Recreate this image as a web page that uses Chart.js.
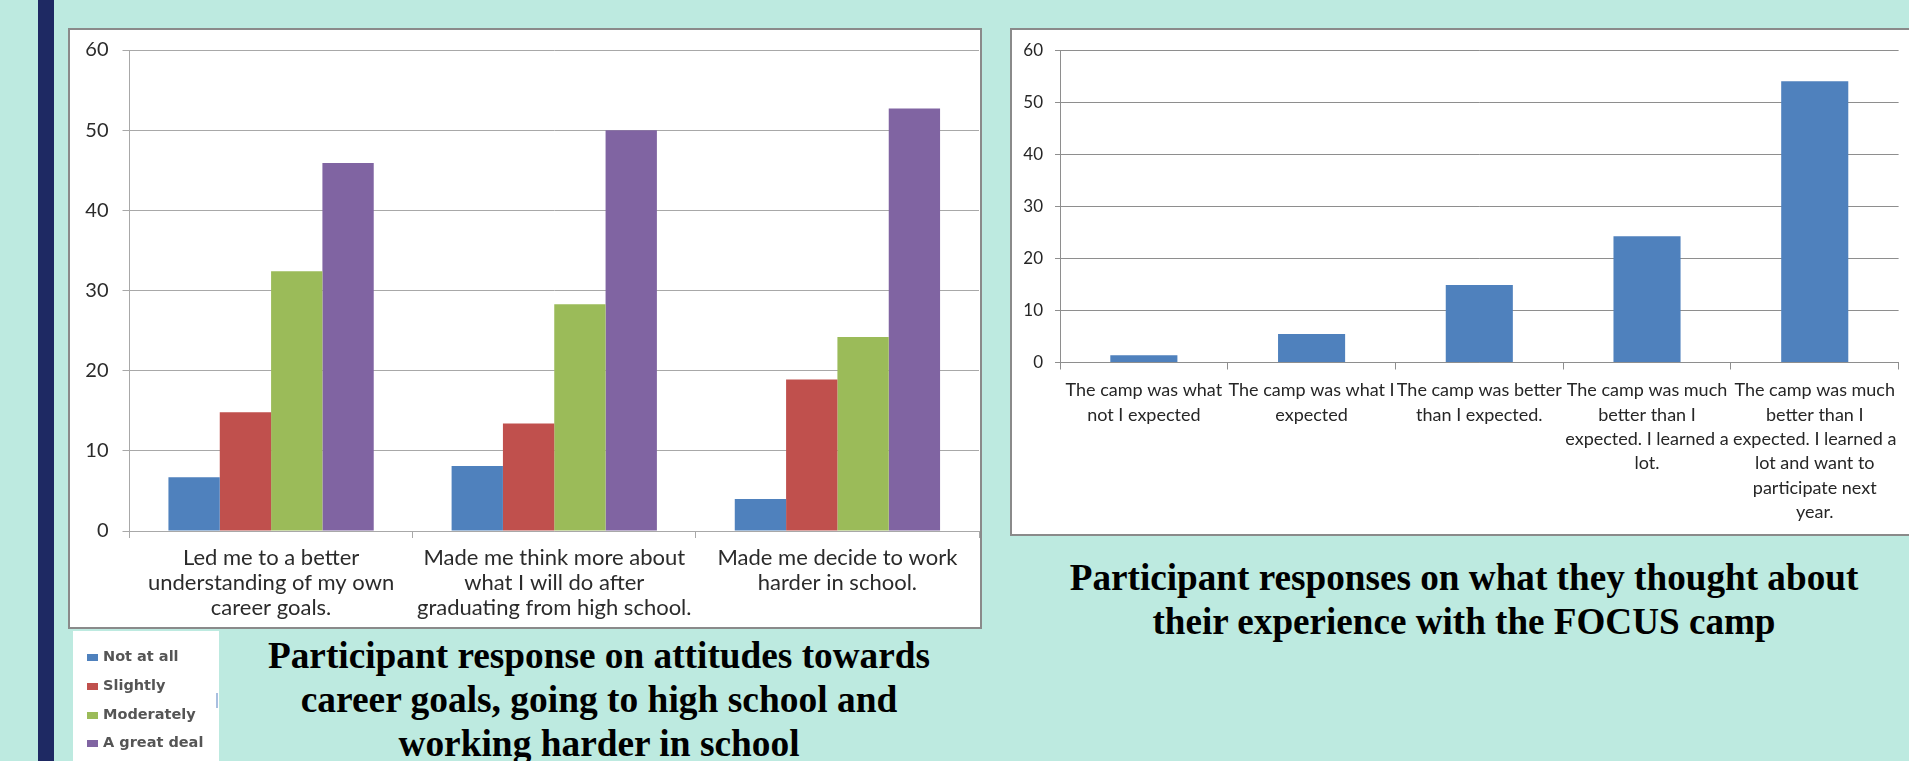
<!DOCTYPE html>
<html>
<head>
<meta charset="utf-8">
<title>FOCUS camp survey</title>
<script src="https://cdn.jsdelivr.net/npm/chart.js"></script>
<style>
  body{margin:0;width:1909px;height:761px;background:#bdeae0;position:relative;overflow:hidden;}
  #navBar{position:absolute;left:38px;top:0;width:16px;height:761px;background:#1e2963;}
  .chartBox{position:absolute;background:#fff;border:2px solid #8a8a8a;box-sizing:border-box;}
  .chartBox canvas{display:block;}
  #attitudeBox{left:68px;top:28px;width:914px;height:601px;}
  #campBox{left:1010px;top:28px;width:920px;height:508px;}
  #legendBox{position:absolute;left:73px;top:631px;width:146px;height:130px;background:#fff;}
  .legend-item{position:absolute;left:14px;height:20px;font-family:"DejaVu Sans",sans-serif;font-weight:bold;font-size:14.5px;color:#555;filter:blur(0.6px);white-space:nowrap;}
  .legend-item span.mark{position:absolute;left:0;top:6px;width:11px;height:7px;}
  .legend-item span.txt{position:absolute;left:16px;top:0;}
  #legendNick{position:absolute;left:216px;top:693px;width:2px;height:15px;background:#a9bfe0;}
  .title-line{position:absolute;font-family:"Liberation Serif","Times New Roman",serif;font-weight:bold;font-size:37px;line-height:37px;color:#000;white-space:nowrap;transform-origin:center;}
</style>
</head>
<body>
<div id="navBar"></div>

<div class="chartBox" id="attitudeBox"><canvas id="attitudeChart" width="910" height="597"></canvas></div>
<div id="legendBox"></div>
<div id="legendNick"></div>

<div class="chartBox" id="campBox"><canvas id="campChart" width="916" height="504"></canvas></div>

<script>
/*--data: attitudes chart--*/
const attitudeLabels = [
  ['Led me to a better', 'understanding of my own', 'career goals.'],
  ['Made me think more about', 'what I will do after', 'graduating from high school.'],
  ['Made me decide to work', 'harder in school.']
];
const seriesNames = ['Not at all', 'Slightly', 'Moderately', 'A great deal'];
const seriesColors = ['#4f81bd', '#c0504d', '#9bbb59', '#8064a2'];
const notAtAll   = [6.7, 8.1, 4.0];
const slightly   = [14.8, 13.4, 18.9];
const moderately = [32.4, 28.3, 24.2];
const greatDeal  = [45.9, 50.0, 52.7];

/*--data: camp experience chart--*/
const campLabels = [
  ['The camp was what', 'not I expected'],
  ['The camp was what I', 'expected'],
  ['The camp was better', 'than I expected.'],
  ['The camp was much', 'better than I', 'expected. I learned a', 'lot.'],
  ['The camp was much', 'better than I', 'expected. I learned a', 'lot and want to', 'participate next', 'year.']
];
const campValues = [1.4, 5.5, 14.9, 24.3, 54.1];
const campColor = '#4f81bd';

const yMin = 0;
const yMax = 60;
const yStep = 10;

const leftTitle = ['Participant response on attitudes towards', 'career goals, going to high school and', 'working harder in school'];
const rightTitle = ['Participant responses on what they thought about', 'their experience with the FOCUS camp'];

// y axis keeps a fixed width and no extra label padding, so the plot area sits where the original has it
function fixYAxis(width){
  return function(scale){
    scale.width = width;
    scale.paddingTop = 0;
    scale.paddingBottom = 0;
  };
}

/*--attitudes chart--*/
const attitudeSeries = [notAtAll, slightly, moderately, greatDeal];
const leftGrid = '#a8a8a8';
const attitudeConfig = {
  type: 'bar',
  data: {
    labels: attitudeLabels,
    datasets: seriesNames.map((name, i) => ({
      label: name,
      data: attitudeSeries[i],
      backgroundColor: seriesColors[i],
      borderWidth: 0,
      barPercentage: 1,
      categoryPercentage: 0.725
    }))
  },
  options: {
    responsive: false,
    animation: false,
    layout: { padding: { top: 20, right: 1, bottom: 0, left: 0 } },
    plugins: { legend: { display: false }, tooltip: { enabled: false } },
    scales: {
      x: {
        grid: { drawOnChartArea: false, tickLength: 7, color: leftGrid },
        border: { color: leftGrid },
        ticks: { color: '#2b2b2b', font: { family: 'Lato', size: 22, lineHeight: 1.14 }, padding: 7, maxRotation: 0, autoSkip: false },
        afterFit: function(scale) { scale.height = 96; }
      },
      y: {
        min: yMin, max: yMax,
        grid: { tickLength: 7, color: leftGrid },
        border: { color: leftGrid },
        ticks: { stepSize: yStep, color: '#2b2b2b', font: { family: 'Lato', size: 20 }, padding: 14 },
        afterFit: fixYAxis(59.5)
      }
    }
  }
};
const attitudeChart = new Chart(document.getElementById('attitudeChart'), attitudeConfig);

/*--camp chart--*/
const rightGrid = '#8e8e8e';
const campConfig = {
  type: 'bar',
  data: {
    labels: campLabels,
    datasets: [{
      label: 'Responses',
      data: campValues,
      backgroundColor: campColor,
      borderWidth: 0,
      barPercentage: 1,
      categoryPercentage: 0.4
    }]
  },
  options: {
    responsive: false,
    animation: false,
    layout: { padding: { top: 20.5, right: 29.4, bottom: 0, left: 0 } },
    plugins: { legend: { display: false }, tooltip: { enabled: false } },
    scales: {
      x: {
        grid: { drawOnChartArea: false, tickLength: 7, color: rightGrid },
        border: { color: rightGrid },
        ticks: { color: '#262626', font: { family: 'Lato', size: 18, lineHeight: 1.35 }, padding: 9, maxRotation: 0, autoSkip: false },
        afterFit: function(scale) { scale.height = 171.5; }
      },
      y: {
        min: yMin, max: yMax,
        grid: { tickLength: 5, color: rightGrid },
        border: { color: rightGrid },
        ticks: { stepSize: yStep, color: '#262626', font: { family: 'Lato', size: 17 }, padding: 12 },
        afterFit: fixYAxis(48)
      }
    }
  }
};
const campChart = new Chart(document.getElementById('campChart'), campConfig);

/*--legend--*/
const legendBox = document.getElementById('legendBox');
const legendTops = [17, 46, 75, 103];
seriesNames.forEach((name, i) => {
  const item = document.createElement('div');
  item.className = 'legend-item';
  item.style.top = legendTops[i] + 'px';
  item.innerHTML = `<span class="mark" style="background:${seriesColors[i]}"></span><span class="txt">${name}</span>`;
  legendBox.appendChild(item);
});

/*--titles--*/
function placeTitle(lines, centerX, tops, widths){
  lines.forEach((text, i) => {
    const el = document.createElement('div');
    el.className = 'title-line';
    el.textContent = text;
    el.style.left = centerX + 'px';
    el.style.top = tops[i] + 'px';
    document.body.appendChild(el);
    const w = el.offsetWidth;
    el.style.transform = `translateX(-50%) scaleX(${widths[i] / w})`;
  });
}
placeTitle(leftTitle, 599, [637, 681, 725], [662, 597, 401]);
placeTitle(rightTitle, 1464, [559, 603], [789, 623]);
</script>
</body>
</html>
